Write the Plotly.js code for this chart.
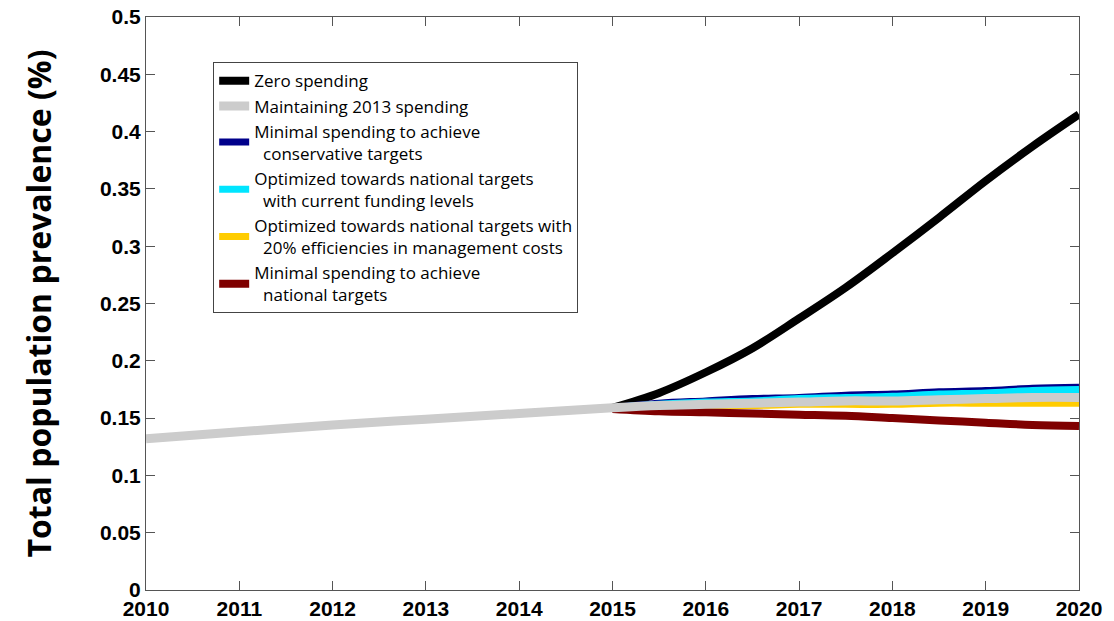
<!DOCTYPE html>
<html>
<head>
<meta charset="utf-8">
<script src="https://cdn.plot.ly/plotly-3.0.1.min.js"></script>
<style>html,body{margin:0;padding:0;background:#fff;}#chart{width:1114px;height:621px;}</style>
</head>
<body>
<div id="chart"></div>
<script>
// Historical years (shared by all scenarios, drawn as the grey line)
const histYears = [2010, 2011, 2012, 2013, 2014, 2015];
const histValues = [0.132, 0.138, 0.144, 0.149, 0.154, 0.159];

// Projection years
const projYears = [2015, 2015.5, 2016, 2016.5, 2017, 2017.5, 2018, 2018.5, 2019, 2019.5, 2020];

const zeroSpending      = [0.159, 0.172, 0.190, 0.211, 0.237, 0.264, 0.294, 0.325, 0.357, 0.387, 0.415];
const maintain2013      = [0.159, 0.161, 0.162, 0.163, 0.164, 0.165, 0.165, 0.166, 0.167, 0.168, 0.168];
const minConservative   = [0.159, 0.163, 0.165, 0.167, 0.168, 0.170, 0.171, 0.173, 0.174, 0.176, 0.177];
const optCurrent        = [0.159, 0.162, 0.164, 0.165, 0.167, 0.168, 0.169, 0.171, 0.172, 0.174, 0.175];
const optEfficiencies   = [0.159, 0.160, 0.161, 0.161, 0.162, 0.162, 0.162, 0.163, 0.163, 0.163, 0.163];
const minNational       = [0.158, 0.156, 0.155, 0.154, 0.153, 0.152, 0.150, 0.148, 0.146, 0.144, 0.143];

const seriesNames = [
  "Zero spending",
  "Maintaining 2013 spending",
  "Minimal spending to achieve<br>  conservative targets",
  "Optimized towards national targets<br>  with current funding levels",
  "Optimized towards national targets with<br>  20% efficiencies in management costs",
  "Minimal spending to achieve<br>  national targets"
];

const xTickVals = [2010,2011,2012,2013,2014,2015,2016,2017,2018,2019,2020];
const xTickLabels = ["2010","2011","2012","2013","2014","2015","2016","2017","2018","2019","2020"];
const yTickVals = [0, 0.05, 0.1, 0.15, 0.2, 0.25, 0.3, 0.35, 0.4, 0.45, 0.5];
const yTickText = ["0","0.05","0.1","0.15","0.2","0.25","0.3","0.35","0.4","0.45","0.5"];

const greyX = histYears.concat(projYears.slice(1));
const greyY = histValues.concat(maintain2013.slice(1));

const traces = [
  {x: projYears, y: zeroSpending, name: seriesNames[0], legendrank: 1, line: {color: "#000000", width: 8, shape: "spline"}},
  {x: projYears, y: minConservative, name: seriesNames[2], legendrank: 3, line: {color: "#00008B", width: 7, shape: "spline"}},
  {x: projYears, y: optCurrent, name: seriesNames[3], legendrank: 4, line: {color: "#00E5FF", width: 7, shape: "spline"}},
  {x: projYears, y: optEfficiencies, name: seriesNames[4], legendrank: 5, line: {color: "#FFCC00", width: 7, shape: "spline"}},
  {x: projYears, y: minNational, name: seriesNames[5], legendrank: 6, line: {color: "#7F0000", width: 8, shape: "spline"}},
  {x: greyX, y: greyY, name: seriesNames[1], legendrank: 2, line: {color: "#CCCCCC", width: 9, shape: "spline"}}
].map(t => Object.assign({type: "scatter", mode: "lines", hoverinfo: "skip"}, t));

const layout = {
  width: 1114, height: 621,
  margin: {l: 146, r: 35, t: 17, b: 31},
  paper_bgcolor: "#ffffff", plot_bgcolor: "#ffffff",
  showlegend: true,
  legend: {
    x: 0.072, y: 0.921, xanchor: "left", yanchor: "top",
    bgcolor: "#ffffff", bordercolor: "#444444", borderwidth: 1,
    font: {family: "Open Sans, sans-serif", size: 17, color: "#000000"},
    tracegroupgap: 0, itemwidth: 30
  },
  xaxis: {
    range: [2010, 2020], tickvals: xTickVals, ticktext: xTickLabels,
    showgrid: false, zeroline: false,
    showline: true, linecolor: "#555555", linewidth: 1, mirror: "ticks",
    ticks: "inside", ticklen: 9, tickcolor: "#555555",
    tickfont: {family: "Liberation Sans, Arial, sans-serif", size: 21, weight: "bold", color: "#000000"}
  },
  yaxis: {
    range: [0, 0.5], tickvals: yTickVals, ticktext: yTickText,
    showgrid: false, zeroline: false,
    showline: true, linecolor: "#555555", linewidth: 1, mirror: "ticks",
    ticks: "inside", ticklen: 9, tickcolor: "#555555",
    tickfont: {family: "Liberation Sans, Arial, sans-serif", size: 21, weight: "bold", color: "#000000"},
    title: {text: "Total population prevalence (%)", standoff: 38,
            font: {family: "Open Sans, sans-serif", size: 32, weight: "bold", color: "#000000"}},
    automargin: false
  }
};

Plotly.newPlot("chart", traces, layout, {displayModeBar: false, staticPlot: true});
</script>
</body>
</html>
